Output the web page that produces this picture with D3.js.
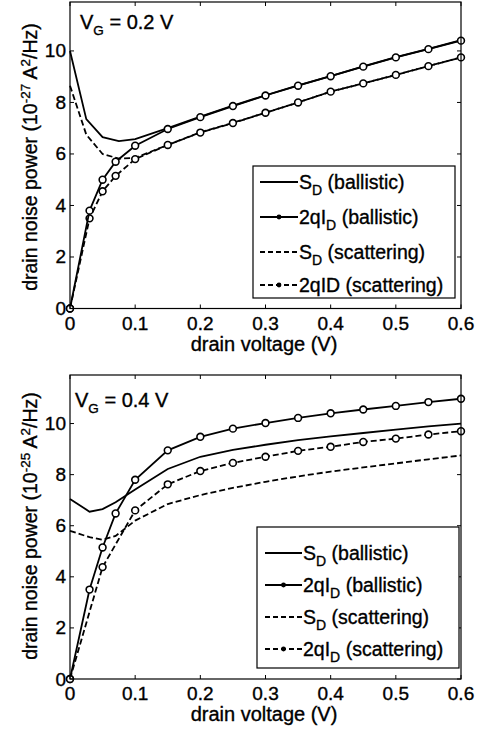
<!DOCTYPE html>
<html>
<head>
<meta charset="utf-8">
<script src="https://cdn.jsdelivr.net/npm/d3@7"></script>
<style>
  body { margin: 0; background: #fff; }
  text { font-family: "Liberation Sans", Arial, sans-serif; fill: #000; stroke: #000; stroke-width: 0.35px; }
</style>
</head>
<body>
<div id="chart"></div>
<script>
'use strict';
// drain voltage grids (V)
const vdMarkTop = [0, 0.03, 0.05, 0.07, 0.1, 0.15, 0.2, 0.25, 0.3, 0.35, 0.4, 0.45, 0.5, 0.55, 0.6];
const vdCurveTop = [0, 0.025, 0.05, 0.075, 0.1, 0.15, 0.2, 0.25, 0.3, 0.35, 0.4, 0.45, 0.5, 0.55, 0.6];
const vdMarkBot = [0, 0.03, 0.05, 0.07, 0.1, 0.15, 0.2, 0.25, 0.3, 0.35, 0.4, 0.45, 0.5, 0.55, 0.6];
const vdScatBot = [0, 0.05, 0.1, 0.15, 0.2, 0.25, 0.3, 0.35, 0.4, 0.45, 0.5, 0.55, 0.6];

// VG = 0.2 V  (1e-27 A^2/Hz)
const sdBallTop = [10.0, 7.35, 6.65, 6.5, 6.58, 7.0, 7.45, 7.88, 8.28, 8.66, 9.02, 9.4, 9.76, 10.08, 10.42];
const qidBallTop = [0, 3.8, 5.0, 5.7, 6.32, 6.97, 7.43, 7.86, 8.27, 8.65, 9.02, 9.39, 9.75, 10.07, 10.4];
const sdScatTop = [8.65, 6.75, 6.0, 5.82, 5.85, 6.35, 6.84, 7.21, 7.6, 8.0, 8.42, 8.74, 9.07, 9.41, 9.75];
const qidScatTop = [0, 3.5, 4.55, 5.15, 5.8, 6.35, 6.83, 7.2, 7.6, 8.0, 8.42, 8.74, 9.07, 9.41, 9.75];

// VG = 0.4 V  (1e-25 A^2/Hz)
const sdBallBot = [7.05, 6.55, 6.65, 6.92, 7.42, 8.22, 8.7, 8.97, 9.17, 9.35, 9.5, 9.63, 9.76, 9.89, 10.0];
const qidBallBot = [0, 3.5, 5.15, 6.48, 7.8, 8.95, 9.48, 9.8, 10.02, 10.22, 10.4, 10.55, 10.69, 10.84, 10.97];
const sdScatBot = [5.8, 5.55, 5.45, 5.6, 6.2, 6.85, 7.2, 7.48, 7.72, 7.93, 8.12, 8.28, 8.44, 8.6, 8.75];
const qidScatBot = [0, 4.38, 6.6, 7.62, 8.14, 8.46, 8.7, 8.93, 9.09, 9.28, 9.41, 9.57, 9.7];

const xTicks = [0, 0.1, 0.2, 0.3, 0.4, 0.5, 0.6];
const yTicks = [0, 2, 4, 6, 8, 10];
const legendTop = [
  { main: "S", sub: "D", rest: " (ballistic)", dash: null, mark: false },
  { main: "2qI", sub: "D", rest: " (ballistic)", dash: null, mark: true },
  { main: "S", sub: "D", rest: " (scattering)", dash: "5,3", mark: false },
  { main: "2qID", sub: "", rest: " (scattering)", dash: "5,3", mark: true }
];
const legendBot = [
  { main: "S", sub: "D", rest: " (ballistic)", dash: null, mark: false },
  { main: "2qI", sub: "D", rest: " (ballistic)", dash: null, mark: true },
  { main: "S", sub: "D", rest: " (scattering)", dash: "5,3", mark: false },
  { main: "2qI", sub: "D", rest: " (scattering)", dash: "5,3", mark: true }
];

const W = 483, H = 731;
const svg = d3.select("#chart").append("svg")
  .attr("width", W).attr("height", H);

function drawPanel(p) {
  let x = d3.scaleLinear().domain([0, 0.6]).range([70, 461]);
  let y = d3.scaleLinear().domain([0, 11.9]).range([p.y0, p.y1]);
  let g = svg.append("g");

  let line = d3.line()
    .x(function (d) { return x(d[0]); })
    .y(function (d) { return y(d[1]); });

  function series(xs, ys, dash, mark) {
    let pts = xs.map(function (v, i) { return [v, ys[i]]; });
    g.append("path")
      .attr("d", line(pts))
      .attr("fill", "none")
      .attr("stroke", "#000")
      .attr("stroke-width", 1.8)
      .attr("stroke-dasharray", dash);
    if (mark) {
      g.selectAll(null).data(pts).enter().append("circle")
        .attr("cx", function (d) { return x(d[0]); })
        .attr("cy", function (d) { return y(d[1]); })
        .attr("r", 3.4)
        .attr("fill", "#fff")
        .attr("stroke", "#000")
        .attr("stroke-width", 1.6);
    }
  }

  series(p.sdScatX, p.sdScat, "6,3", false);
  series(p.qidScatX, p.qidScat, "6,3", true);
  series(p.sdBallX, p.sdBall, null, false);
  series(p.qidBallX, p.qidBall, null, true);

  // frame with inward ticks on all four sides
  g.append("rect")
    .attr("x", x(0)).attr("y", p.y1)
    .attr("width", x(0.6) - x(0)).attr("height", p.y0 - p.y1)
    .attr("fill", "none").attr("stroke", "#000").attr("stroke-width", 1.2);
  xTicks.forEach(function (t) {
    g.append("line").attr("x1", x(t)).attr("x2", x(t))
      .attr("y1", p.y0).attr("y2", p.y0 - 4).attr("stroke", "#000");
    g.append("line").attr("x1", x(t)).attr("x2", x(t))
      .attr("y1", p.y1).attr("y2", p.y1 + 4).attr("stroke", "#000");
    g.append("text").attr("x", x(t)).attr("y", p.y0 + 21)
      .attr("text-anchor", "middle").attr("font-size", 19).text(t);
  });
  yTicks.forEach(function (t) {
    g.append("line").attr("x1", 70).attr("x2", 74)
      .attr("y1", y(t)).attr("y2", y(t)).attr("stroke", "#000");
    g.append("line").attr("x1", 461).attr("x2", 457)
      .attr("y1", y(t)).attr("y2", y(t)).attr("stroke", "#000");
    g.append("text").attr("x", 66).attr("y", y(t) + 6.5)
      .attr("text-anchor", "end").attr("font-size", 19).text(t);
  });

  // axis labels
  g.append("text").attr("x", 264).attr("y", p.y0 + 42)
    .attr("text-anchor", "middle").attr("font-size", 20)
    .text("drain voltage (V)");
  let yl = g.append("text")
    .attr("transform", "translate(37," + p.yLabelMid + ") rotate(-90)")
    .attr("text-anchor", "middle").attr("font-size", 19.5);
  yl.append("tspan").text("drain noise power (10");
  yl.append("tspan").attr("dy", -7).attr("font-size", 13.5).text(p.exp);
  yl.append("tspan").attr("dy", 7).text(" A");
  yl.append("tspan").attr("dy", -7).attr("font-size", 13.5).text("2");
  yl.append("tspan").attr("dy", 7).text("/Hz)");

  // gate voltage note
  let vg = g.append("text").attr("x", p.vgX).attr("y", p.vgY).attr("font-size", 20);
  vg.append("tspan").text("V");
  vg.append("tspan").attr("dy", 6).attr("font-size", 13.5).text("G");
  vg.append("tspan").attr("dy", -6).text(" = " + p.vg + " V");

  // legend
  let lb = p.legend;
  g.append("rect")
    .attr("x", lb.x0).attr("y", lb.y0)
    .attr("width", lb.x1 - lb.x0).attr("height", lb.y1 - lb.y0)
    .attr("fill", "#fff").attr("stroke", "#000").attr("stroke-width", 1.2);
  p.legendItems.forEach(function (it, i) {
    let ry = lb.rows[i];
    g.append("line")
      .attr("x1", lb.sx0).attr("x2", lb.sx1)
      .attr("y1", ry).attr("y2", ry)
      .attr("stroke", "#000").attr("stroke-width", 1.8)
      .attr("stroke-dasharray", it.dash);
    if (it.mark) {
      g.append("circle").attr("cx", (lb.sx0 + lb.sx1) / 2).attr("cy", ry)
        .attr("r", 2.4).attr("fill", "#000");
    }
    let t = g.append("text").attr("x", lb.sx1 + 1).attr("y", ry + 6.5)
      .attr("font-size", 19.5);
    t.append("tspan").text(it.main);
    if (it.sub) {
      t.append("tspan").attr("dy", 6).attr("font-size", 14).text(it.sub);
      t.append("tspan").attr("dy", -6).text(it.rest);
    } else {
      t.append("tspan").text(it.rest);
    }
  });
}

drawPanel({
  y0: 308.5, y1: 2, exp: "-27", yLabelMid: 157,
  vg: "0.2", vgX: 80, vgY: 29,
  sdBallX: vdCurveTop, sdBall: sdBallTop,
  qidBallX: vdMarkTop, qidBall: qidBallTop,
  sdScatX: vdCurveTop, sdScat: sdScatTop,
  qidScatX: vdMarkTop, qidScat: qidScatTop,
  legend: { x0: 253, x1: 455, y0: 166, y1: 298, sx0: 260, sx1: 298, rows: [182, 217, 252, 285] },
  legendItems: legendTop
});

drawPanel({
  y0: 679, y1: 375, exp: "-25", yLabelMid: 526,
  vg: "0.4", vgX: 75, vgY: 407,
  sdBallX: vdMarkBot, sdBall: sdBallBot,
  qidBallX: vdMarkBot, qidBall: qidBallBot,
  sdScatX: vdMarkBot, sdScat: sdScatBot,
  qidScatX: vdScatBot, qidScat: qidScatBot,
  legend: { x0: 257, x1: 459, y0: 527, y1: 668, sx0: 265, sx1: 302, rows: [553, 585, 617, 649] },
  legendItems: legendBot
});
</script>
</body>
</html>
